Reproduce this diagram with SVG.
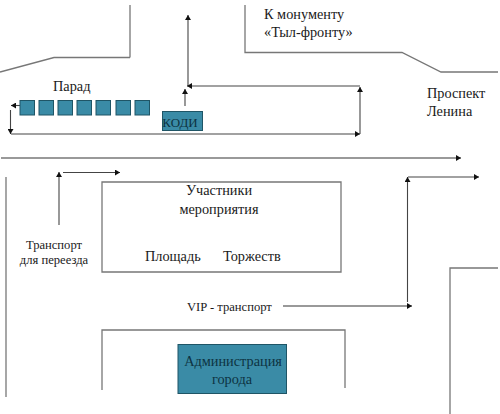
<svg xmlns="http://www.w3.org/2000/svg" width="500" height="414" viewBox="0 0 500 414">
<style>
text{font-family:"Liberation Serif",serif;fill:#1a1a1a}
.w{fill:none;stroke:#777;stroke-width:1.3}
.c{fill:none;stroke:#444;stroke-width:1.1}
.a{marker-end:url(#ah)}
.b{fill:#3a8ba6;stroke:#1f5566;stroke-width:1}
.m{text-anchor:middle}
.d{fill:#0d3342}
.l{font-size:14.300px}
.s{font-size:12.600px}
</style>
<defs>
<marker id="ah" markerUnits="userSpaceOnUse" markerWidth="6" markerHeight="6" refX="5" refY="3" orient="auto"><path d="M0,0L5,3L0,6Z" fill="#111"/></marker>
</defs>
<rect width="500" height="414" fill="#fff"/>
<g id="walls">
<path class="w" d="M0,72L54,57.500L130,57.500M130,5V57.500"/>
<path class="w" d="M245,5V52.500H402L441,72H498"/>
<path class="w" d="M6,177V397"/>
<path class="w" d="M102,182H341V272H102Z"/>
<path class="w" d="M102,390V330H345V388"/>
<path class="w" d="M450,414V268H498"/>
</g>
<g id="connectors">
<path class="w a" d="M1,158H461"/>
<path class="c a" d="M188,86V15"/>
<path class="c a" d="M360,86H187"/>
<path class="c a" d="M185,106V89"/>
<path class="c a" d="M360,134V87"/>
<path class="c a" d="M11,134H360"/>
<path class="c a" d="M20,105.500H11"/>
<path class="c a" d="M10.500,110V134"/>
<path class="c a" d="M59,225V172"/>
<path class="c a" d="M63,172.500H120"/>
<path class="w a" d="M283,306H412"/>
<path class="c a" d="M407.500,302V177"/>
<path class="c a" d="M408,177H479"/>
</g>
<g id="parade">
<rect class="b" x="20" y="100.500" width="14.500" height="14.500"/>
<rect class="b" x="39" y="100.500" width="14.500" height="14.500"/>
<rect class="b" x="58" y="100.500" width="14.500" height="14.500"/>
<rect class="b" x="77" y="100.500" width="14.500" height="14.500"/>
<rect class="b" x="96" y="100.500" width="14.500" height="14.500"/>
<rect class="b" x="116" y="100.500" width="14.500" height="14.500"/>
<rect class="b" x="135" y="100.500" width="14.500" height="14.500"/>
</g>
<g id="kodi">
<rect class="b" x="162.500" y="111.500" width="40" height="19"/>
<text x="180" y="127" font-size="13" class="m d">КОДИ</text>
</g>
<g id="admin">
<rect class="b" x="178" y="344.500" width="108.500" height="49"/>
<text x="233" y="366" class="m d l">Администрация</text>
<text x="232" y="384" class="m d l">города</text>
</g>
<g id="labels">
<text x="53" y="91" class="l">Парад</text>
<text x="264" y="19" class="l">К монументу</text>
<text x="264" y="37" class="l">«Тыл-фронту»</text>
<text x="427" y="98" class="l">Проспект</text>
<text x="427" y="116" class="l">Ленина</text>
<text x="219" y="195" class="m l">Участники</text>
<text x="219" y="214" class="m l">мероприятия</text>
<text x="145" y="261" class="l">Площадь</text>
<text x="223" y="261" class="l">Торжеств</text>
<text x="54" y="249" class="m s">Транспорт</text>
<text x="54" y="264" class="m s">для переезда</text>
<text x="187" y="311" class="s">VIP - транспорт</text>
</g>
</svg>
